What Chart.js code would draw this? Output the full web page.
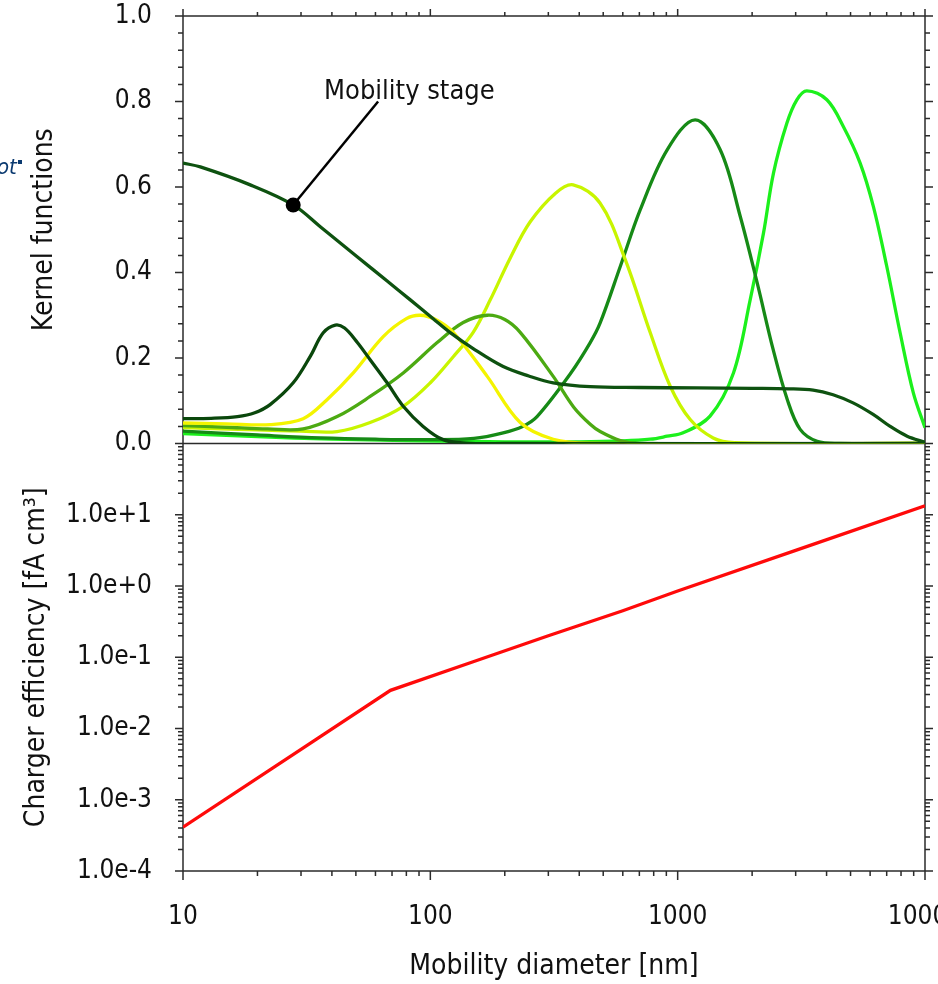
<!DOCTYPE html>
<html>
<head>
<meta charset="utf-8">
<script src="https://cdn.jsdelivr.net/npm/chart.js@4.4.1/dist/chart.umd.min.js"></script>
<style>
html,body{margin:0;padding:0;overflow:hidden;background:#fff;width:938px;height:984px}
#wrap{position:absolute;left:0;top:0;width:1000px;height:984px}
</style>
</head>
<body>
<div id="wrap"><canvas id="c" width="1000" height="984"></canvas></div>
<script>
const FONT = "'DejaVu Sans Condensed','DejaVu Sans',sans-serif";

// ---- axis ticks / labels ----
const xMajor = [10, 100, 1000, 10000];
const xTickLabels = ['10', '100', '1000', '10000'];
const kMajor = [0, 0.2, 0.4, 0.6, 0.8, 1.0];
const kTickLabels = ['0.0', '0.2', '0.4', '0.6', '0.8', '1.0'];
const cMajor = [1e-4, 1e-3, 1e-2, 1e-1, 1, 10, 100];
const cTickLabels = ['1.0e-4', '1.0e-3', '1.0e-2', '1.0e-1', '1.0e+0', '1.0e+1'];

// ---- kernel functions (top panel) ----
const stageD = [10, 11.75, 18.7, 27.9, 35.9, 50.6, 66.9, 83, 102.7, 120, 149, 197, 250, 314, 443, 700, 1200, 2000, 2800, 3530, 4250, 5120, 6170, 7230, 8470, 10000];
const stageK = [0.656, 0.647, 0.605, 0.558, 0.507, 0.437, 0.38, 0.336, 0.292, 0.26, 0.222, 0.18, 0.158, 0.142, 0.133, 0.131, 0.130, 0.129, 0.128, 0.125, 0.114, 0.095, 0.068, 0.04, 0.017, 0.003];

const p40D = [10, 13, 16.6, 19.5, 22.5, 27.9, 32.7, 36.9, 41.3, 45, 50.6, 57.1, 66.9, 77.7, 93.5, 112.7, 140, 200, 10000];
const p40K = [0.058, 0.059, 0.063, 0.072, 0.091, 0.142, 0.204, 0.259, 0.277, 0.27, 0.237, 0.196, 0.142, 0.087, 0.04, 0.009, 0.001, 0, 0];

const p90D = [10, 15, 22.5, 30.6, 38.3, 48.8, 64.5, 80, 91, 105, 123.8, 169.8, 230.9, 314, 450, 10000];
const p90K = [0.048, 0.046, 0.044, 0.058, 0.103, 0.165, 0.25, 0.292, 0.30, 0.29, 0.26, 0.157, 0.049, 0.01, 0.001, 0];

const p170D = [10, 15, 22, 30.6, 42, 57.1, 77.7, 106.6, 135.8, 169.8, 200, 230.9, 314, 380, 443, 486, 586, 700, 10000];
const p170K = [0.042, 0.038, 0.034, 0.034, 0.063, 0.11, 0.165, 0.236, 0.283, 0.30, 0.29, 0.26, 0.157, 0.085, 0.045, 0.028, 0.007, 0, 0];

const p380D = [10, 20, 30, 42, 57.1, 77.7, 100, 123.8, 149, 174.7, 210, 253, 320, 378, 486, 614, 775, 933, 1124, 1392, 1700, 10000];
const p380K = [0.037, 0.032, 0.029, 0.028, 0.049, 0.087, 0.142, 0.203, 0.26, 0.336, 0.433, 0.518, 0.585, 0.605, 0.562, 0.43, 0.259, 0.134, 0.056, 0.013, 0.002, 0];

const p1170D = [10, 20, 36, 60, 100, 150, 197, 236, 270, 370, 443, 486, 586, 706, 907, 1177, 1486, 1791, 2098, 2432, 2774, 3128, 3664, 4500, 10000];
const p1170K = [0.029, 0.02, 0.013, 0.01, 0.009, 0.012, 0.025, 0.04, 0.063, 0.165, 0.236, 0.282, 0.414, 0.547, 0.687, 0.757, 0.687, 0.531, 0.375, 0.22, 0.103, 0.033, 0.005, 0, 0];

const p3400D = [10, 20, 40, 80, 200, 400, 600, 775, 907, 1052, 1352, 1681, 1964, 2223, 2439, 2763, 3033, 3328, 4011, 4680, 5467, 6185, 7007, 7932, 8977, 10000];
const p3400K = [0.023, 0.016, 0.01, 0.007, 0.004, 0.004, 0.006, 0.01, 0.017, 0.025, 0.064, 0.165, 0.336, 0.492, 0.632, 0.749, 0.804, 0.825, 0.804, 0.741, 0.656, 0.554, 0.414, 0.259, 0.118, 0.037];

// ---- charger efficiency (bottom panel) ----
const chargerD = [10, 30, 69, 150, 300, 600, 1000, 3000, 10000];
const chargerE = [4.13e-4, 5.1e-3, 0.0343, 0.087, 0.2, 0.45, 0.85, 3.16, 13.4];

// ---- annotation ----
const annotD = [27.9, 61.5];
const annotK = [0.558, 0.80];
const annotText = 'Mobility stage';
const annotLabelAt = {d: 37.2, k: 0.822};

const mk = (ds, ks) => ds.map((d, i) => ({x: d, y: ks[i]}));
const curve = (label, ds, ks, color) => ({
  label, data: mk(ds, ks), borderColor: color, backgroundColor: color,
  borderWidth: 3.3, pointRadius: 0, tension: 0.35,
  xAxisID: 'x', yAxisID: 'yK'
});

function logTickList(majors) {
  const out = [];
  for (let i = 0; i < majors.length; i++) {
    out.push({v: majors[i], major: true});
    if (i < majors.length - 1) for (let m = 2; m <= 9; m++) out.push({v: majors[i] * m, major: false});
  }
  return out;
}

const axesPlugin = {
  id: 'axesFrame',
  beforeDatasetsDraw(chart) {
    const {ctx, chartArea: a} = chart;
    const sx = chart.scales.x, sk = chart.scales.yK, sc = chart.scales.yC;
    ctx.save();
    ctx.strokeStyle = '#2b2b2b';
    ctx.lineWidth = 1.5;
    ctx.beginPath();
    const seg = (x1, y1, x2, y2) => { ctx.moveTo(x1, y1); ctx.lineTo(x2, y2); };
    ctx.rect(a.left, a.top, a.right - a.left, a.bottom - a.top);
    seg(a.left, sk.bottom, a.right, sk.bottom);
    logTickList(xMajor).forEach(t => {
      const p = sx.getPixelForValue(t.v);
      seg(p, a.bottom, p, a.bottom + (t.major ? 9 : 5));
      seg(p, a.top, p, a.top - (t.major ? 7 : 4));
    });
    for (let i = 0; i <= 25; i++) {
      const v = i * 0.04;
      const major = i % 5 === 0;
      const p = sk.getPixelForValue(v);
      seg(a.left, p, a.left - (major ? 8 : 5), p);
      seg(a.right, p, a.right + (major ? 8 : 5), p);
    }
    logTickList(cMajor).forEach(t => {
      const p = sc.getPixelForValue(t.v);
      seg(a.left, p, a.left - (t.major ? 8 : 5), p);
      seg(a.right, p, a.right + (t.major ? 8 : 5), p);
    });
    ctx.stroke();
    ctx.restore();
  },
  afterDatasetsDraw(chart) {
    const {ctx} = chart;
    const sx = chart.scales.x, sk = chart.scales.yK;
    ctx.save();
    ctx.fillStyle = '#111';
    ctx.font = '27px ' + FONT;
    ctx.textAlign = 'left';
    ctx.textBaseline = 'middle';
    ctx.fillText(annotText, sx.getPixelForValue(annotLabelAt.d), sk.getPixelForValue(annotLabelAt.k));
    // clipped fragment of slide text at left edge
    ctx.fillStyle = '#0b3a70';
    ctx.font = 'italic 22px ' + FONT;
    ctx.textBaseline = 'alphabetic';
    ctx.fillText('ot', -3, 174);
    ctx.fillRect(18, 160, 4, 4);
    ctx.restore();
  }
};

const tickFont = {family: FONT, size: 26};
const titleFont = {family: FONT, size: 28};
const fitY = s => { s.width = 183; s.paddingTop = 0; s.paddingBottom = 0; };

new Chart(document.getElementById('c'), {
  type: 'line',
  data: {
    datasets: [
      {
        label: 'annotation', data: mk(annotD, annotK), borderColor: '#000', backgroundColor: '#000',
        borderWidth: 2.5, pointRadius: [7.5, 0], pointBorderWidth: 0, pointBackgroundColor: '#000',
        xAxisID: 'x', yAxisID: 'yK', clip: false
      },
      curve('Mobility stage', stageD, stageK, '#0e5210'),
      curve('Stage 1', p40D, p40K, '#0a470c'),
      curve('Stage 2', p90D, p90K, '#f4f400'),
      curve('Stage 3', p170D, p170K, '#4caa12'),
      curve('Stage 4', p380D, p380K, '#c8f500'),
      curve('Stage 5', p1170D, p1170K, '#168a16'),
      curve('Stage 6', p3400D, p3400K, '#1cf01c'),
      {
        label: 'Charger efficiency', data: mk(chargerD, chargerE), borderColor: '#ff0a0a', backgroundColor: '#ff0a0a',
        borderWidth: 3.3, pointRadius: 0, tension: 0, xAxisID: 'x', yAxisID: 'yC'
      }
    ]
  },
  options: {
    responsive: false,
    animation: false,
    devicePixelRatio: 1,
    events: [],
    layout: {padding: {left: 0, right: 75, top: 16, bottom: 0}},
    plugins: {legend: {display: false}, tooltip: {enabled: false}},
    scales: {
      x: {
        type: 'logarithmic', position: 'bottom', min: 10, max: 10000,
        grid: {display: false}, border: {display: false},
        afterBuildTicks: s => { s.ticks = xMajor.map(v => ({value: v})); },
        afterFit: s => { s.height = 113; },
        ticks: {
          font: tickFont, color: '#111', padding: 23, autoSkip: false, maxRotation: 0,
          callback: (v) => { const i = xMajor.indexOf(v); return i >= 0 ? xTickLabels[i] : ''; }
        },
        title: {display: true, text: 'Mobility diameter [nm]', font: titleFont, color: '#111', padding: {top: 0, bottom: 0}}
      },
      yC: {
        type: 'logarithmic', position: 'left', stack: 'v', stackWeight: 1, weight: 0,
        min: 1e-4, max: 100,
        grid: {display: false}, border: {display: false},
        afterBuildTicks: s => { s.ticks = cMajor.slice(0, cTickLabels.length).map(v => ({value: v})); },
        afterFit: fitY,
        ticks: {
          font: tickFont, color: '#111', padding: 23, autoSkip: false,
          callback: (v) => { const i = cMajor.indexOf(v); return i >= 0 && i < cTickLabels.length ? cTickLabels[i] : ''; }
        },
        title: {display: true, text: 'Charger efficiency [fA cm³]', font: titleFont, color: '#111', padding: {top: 20, bottom: 0}}
      },
      yK: {
        type: 'linear', position: 'left', stack: 'v', stackWeight: 1, weight: 1,
        min: 0, max: 1,
        grid: {display: false}, border: {display: false},
        afterBuildTicks: s => { s.ticks = kMajor.map(v => ({value: v})); },
        afterFit: fitY,
        ticks: {
          font: tickFont, color: '#111', padding: 23, autoSkip: false,
          callback: (v) => { const i = kMajor.findIndex(m => Math.abs(m - v) < 1e-9); return i >= 0 ? kTickLabels[i] : ''; }
        },
        title: {display: true, text: 'Kernel functions', font: titleFont, color: '#111', padding: {top: 28, bottom: 0}}
      }
    }
  },
  plugins: [axesPlugin]
});
</script>
</body>
</html>
